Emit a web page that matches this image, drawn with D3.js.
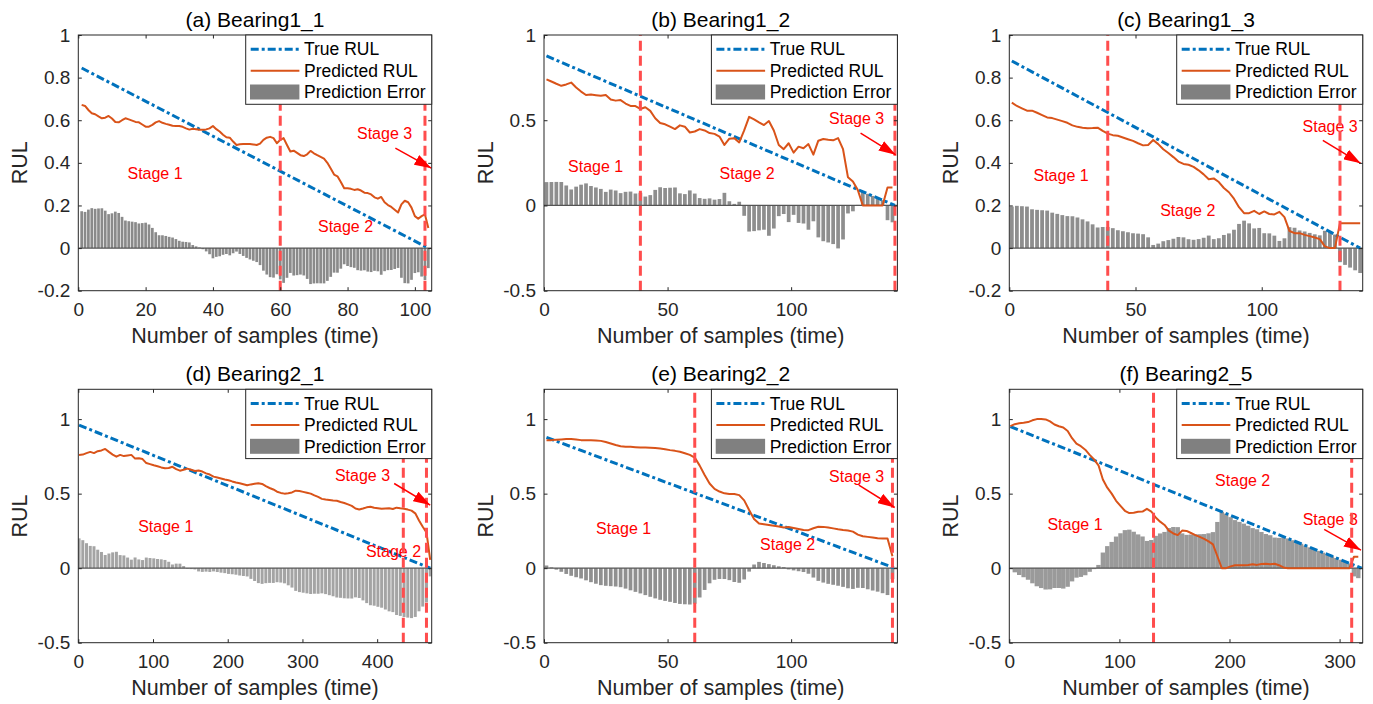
<!DOCTYPE html>
<html>
<head>
<meta charset="utf-8">
<script src="https://cdn.jsdelivr.net/npm/d3@7"></script>
<style>
body { margin: 0; background: #fff; }
svg text { font-family: "Liberation Sans", Arial, Helvetica, sans-serif; }
</style>
</head>
<body>
<svg id="chart" width="1373" height="704"></svg>
<script>
// ---- data ----
var titles = ["(a) Bearing1_1", "(b) Bearing1_2", "(c) Bearing1_3",
              "(d) Bearing2_1", "(e) Bearing2_2", "(f) Bearing2_5"];
var legendNames = ["True RUL", "Predicted RUL", "Prediction Error"];
var xAxisName = "Number of samples (time)";
var yAxisName = "RUL";

// x tick labels / y tick labels
var xTicksA = [0, 20, 40, 60, 80, 100];
var xTicksB = [0, 50, 100];
var xTicksC = [0, 50, 100];
var xTicksD = [0, 100, 200, 300, 400];
var xTicksE = [0, 50, 100];
var xTicksF = [0, 100, 200, 300];
var yTicksA = [-0.2, 0, 0.2, 0.4, 0.6, 0.8, 1];
var yTicksHalf = [-0.5, 0, 0.5, 1];

// axis limits
var xLimA = [0, 105], xLimB = [0, 143], xLimC = [0, 140];
var xLimD = [0, 473], xLimE = [0, 143], xLimF = [0, 321];
var yLimA = [-0.2, 1], yLimB = [-0.5, 1], yLimC = [-0.2, 1];
var yLimRow2 = [-0.5, 1.2];

// true RUL: straight line, [sample, value] at both ends
var trueA = [[1, 0.845], [104, 0]];
var trueB = [[1, 0.877], [142, 0]];
var trueC = [[1, 0.878], [139, 0]];
var trueD = [[1, 0.96], [471, 0]];
var trueE = [[1, 0.877], [142, 0]];
var trueF = [[1, 0.95], [320, 0]];

// predicted RUL, first sample and sample step
var predAStart = 1, predAStep = 1;
var predA = [0.672,0.667,0.648,0.633,0.628,0.618,0.609,0.612,0.620,0.608,
  0.592,0.590,0.600,0.609,0.604,0.598,0.592,0.590,0.580,0.570,
  0.570,0.578,0.590,0.596,0.588,0.583,0.579,0.574,0.573,0.573,
  0.569,0.562,0.556,0.560,0.558,0.555,0.555,0.557,0.562,0.573,
  0.558,0.547,0.532,0.520,0.518,0.500,0.484,0.487,0.488,0.489,
  0.488,0.486,0.484,0.490,0.508,0.518,0.522,0.516,0.492,0.508,
  0.516,0.484,0.453,0.457,0.447,0.436,0.432,0.440,0.456,0.445,
  0.436,0.428,0.420,0.400,0.373,0.345,0.337,0.310,0.281,0.281,
  0.278,0.273,0.276,0.270,0.260,0.258,0.252,0.238,0.232,0.240,
  0.215,0.202,0.193,0.180,0.167,0.205,0.222,0.215,0.190,0.150,
  0.138,0.150,0.158,0.094];

var predBStart = 1, predBStep = 2;
var predB = [0.740,0.727,0.714,0.702,0.710,0.721,0.692,0.668,0.648,0.651,
  0.647,0.643,0.648,0.622,0.615,0.618,0.598,0.584,0.583,0.566,
  0.576,0.555,0.512,0.484,0.476,0.462,0.448,0.470,0.462,0.428,
  0.434,0.448,0.440,0.425,0.420,0.404,0.355,0.392,0.395,0.370,
  0.440,0.520,0.505,0.488,0.472,0.495,0.440,0.355,0.330,0.365,
  0.310,0.345,0.336,0.360,0.298,0.380,0.390,0.385,0.382,0.395,
  0.330,0.165,0.140,0.090,0,0,0,0,0,0.105,
  0.105];

var predCStart = 1, predCStep = 2;
var predC = [0.683,0.667,0.656,0.645,0.645,0.635,0.624,0.613,0.610,0.603,
  0.596,0.588,0.576,0.569,0.565,0.562,0.563,0.565,0.550,0.537,
  0.530,0.527,0.519,0.511,0.503,0.492,0.482,0.484,0.507,0.488,
  0.464,0.446,0.427,0.406,0.395,0.391,0.381,0.365,0.346,0.323,
  0.327,0.310,0.282,0.262,0.232,0.192,0.164,0.164,0.175,0.160,
  0.172,0.160,0.158,0.170,0.145,0.080,0.070,0.070,0.062,0.056,
  0.050,0.042,0.008,0,0,0.117,0.117,0.117,0.117,0.117];

var predDStart = 1, predDStep = 5;
var predD = [0.760,0.762,0.772,0.780,0.772,0.785,0.790,0.800,0.780,0.762,
  0.748,0.760,0.752,0.756,0.760,0.735,0.738,0.732,0.705,0.698,
  0.690,0.684,0.676,0.670,0.672,0.680,0.664,0.654,0.660,0.668,
  0.660,0.652,0.655,0.648,0.636,0.628,0.614,0.608,0.602,0.595,
  0.590,0.582,0.575,0.570,0.563,0.556,0.562,0.566,0.570,0.565,
  0.550,0.538,0.528,0.513,0.505,0.500,0.503,0.508,0.520,0.518,
  0.512,0.506,0.500,0.488,0.478,0.465,0.460,0.457,0.454,0.452,
  0.444,0.437,0.428,0.418,0.400,0.394,0.400,0.408,0.412,0.405,
  0.402,0.398,0.400,0.402,0.397,0.406,0.402,0.399,0.393,0.386,
  0.368,0.320,0.278,0.240,0.055];

var predEStart = 1, predEStep = 2;
var predE = [0.859,0.859,0.862,0.864,0.866,0.866,0.863,0.859,0.859,0.859,
  0.857,0.854,0.846,0.836,0.826,0.818,0.815,0.814,0.812,0.810,
  0.809,0.808,0.806,0.803,0.798,0.792,0.787,0.781,0.771,0.760,
  0.742,0.688,0.625,0.568,0.532,0.514,0.502,0.497,0.497,0.490,
  0.455,0.390,0.330,0.300,0.295,0.290,0.285,0.280,0.273,0.276,
  0.270,0.263,0.256,0.255,0.268,0.278,0.277,0.273,0.267,0.261,
  0.256,0.253,0.245,0.225,0.214,0.210,0.206,0.201,0.199,0.199,
  0.080];

var predFStart = 1, predFStep = 4;
var predF = [0.953,0.966,0.972,0.975,0.980,0.992,1.0,1.0,0.998,0.985,
  0.964,0.952,0.944,0.920,0.872,0.835,0.818,0.795,0.760,0.730,
  0.690,0.595,0.540,0.500,0.452,0.418,0.385,0.370,0.372,0.378,
  0.380,0.398,0.380,0.340,0.312,0.290,0.252,0.233,0.222,0.252,
  0.250,0.236,0.222,0.210,0.197,0.180,0.160,0.080,0,0,
  0.012,0.020,0.020,0.020,0.022,0.026,0.022,0.028,0.030,0.026,
  0.030,0.020,0.005,0,0,0,0,0,0,0,
  0,0,0,0,0,0,0,0,0.076,0.076];

// stage boundaries (sample index of the dashed red lines)
var stageLinesA = [60, 103], stageLinesB = [39, 142], stageLinesC = [39, 131];
var stageLinesD = [435, 466], stageLinesE = [61, 141], stageLinesF = [131, 311];

// stage labels: [text, sample, RUL]
var stageTextA = [["Stage 1", 22.8, 0.352], ["Stage 2", 79.4, 0.102], ["Stage 3", 91, 0.536]];
var stageTextB = [["Stage 1", 20.9, 0.229], ["Stage 2", 82.2, 0.186], ["Stage 3", 126.5, 0.508]];
var stageTextC = [["Stage 1", 20.5, 0.341], ["Stage 2", 70.7, 0.175], ["Stage 3", 127.1, 0.573]];
var stageTextD = [["Stage 1", 117, 0.277], ["Stage 2", 421.9, 0.110], ["Stage 3", 380.4, 0.624]];
var stageTextE = [["Stage 1", 32.2, 0.266], ["Stage 2", 98.6, 0.159], ["Stage 3", 126.5, 0.617]];
var stageTextF = [["Stage 1", 59.7, 0.295], ["Stage 2", 212, 0.586], ["Stage 3", 291.5, 0.327]];

// arrows pointing at stage 3: [[from], [to]]
var arrowA = [[94.2, 0.469], [104.9, 0.375]];
var arrowB = [[128.1, 0.424], [142.3, 0.297]];
var arrowC = [[124.2, 0.505], [139.2, 0.398]];
var arrowD = [[422.8, 0.568], [471, 0.423]];
var arrowE = [[127.4, 0.557], [141.9, 0.407]];
var arrowF = [[286, 0.26], [319.4, 0.121]];

// ---- layout ----
var colLeft = [78.3, 544, 1009.3];
var plotW = 353.4;
var rowTop = [35, 389.3];
var plotH = [255.7, 253.4];
var tickLen = 3.5;
var axisColor = "#262626";

var panels = [
  {title: titles[0], pred: predA, start: predAStart, step: predAStep, truth: trueA, xLim: xLimA, xTicks: xTicksA,
   yLim: yLimA, yTicks: yTicksA, stages: stageLinesA, labels: stageTextA, arrow: arrowA, barW: 0.8, barColor: "#8a8a8a"},
  {title: titles[1], pred: predB, start: predBStart, step: predBStep, truth: trueB, xLim: xLimB, xTicks: xTicksB,
   yLim: yLimB, yTicks: yTicksHalf, stages: stageLinesB, labels: stageTextB, arrow: arrowB, barW: 0.75, barColor: "#8e8e8e"},
  {title: titles[2], pred: predC, start: predCStart, step: predCStep, truth: trueC, xLim: xLimC, xTicks: xTicksC,
   yLim: yLimC, yTicks: yTicksA, stages: stageLinesC, labels: stageTextC, arrow: arrowC, barW: 0.75, barColor: "#8e8e8e"},
  {title: titles[3], pred: predD, start: predDStart, step: predDStep, truth: trueD, xLim: xLimD, xTicks: xTicksD,
   yLim: yLimRow2, yTicks: yTicksHalf, stages: stageLinesD, labels: stageTextD, arrow: arrowD, barW: 0.8, barColor: "#a4a4a4"},
  {title: titles[4], pred: predE, start: predEStart, step: predEStep, truth: trueE, xLim: xLimE, xTicks: xTicksE,
   yLim: yLimRow2, yTicks: yTicksHalf, stages: stageLinesE, labels: stageTextE, arrow: arrowE, barW: 0.75, barColor: "#909090"},
  {title: titles[5], pred: predF, start: predFStart, step: predFStep, truth: trueF, xLim: xLimF, xTicks: xTicksF,
   yLim: yLimRow2, yTicks: yTicksHalf, stages: stageLinesF, labels: stageTextF, arrow: arrowF, barW: 1.0, barColor: "#9a9a9a"}
];

var svg = d3.select("#chart");
var defs = svg.append("defs");
defs.append("marker")
    .attr("id", "arrowHead")
    .attr("viewBox", "0 0 10 10")
    .attr("preserveAspectRatio", "none")
    .attr("refX", 10).attr("refY", 5)
    .attr("markerUnits", "userSpaceOnUse")
    .attr("markerWidth", 17).attr("markerHeight", 11)
    .attr("orient", "auto")
    .append("path").attr("d", "M0,0 L10,5 L0,10 z").attr("fill", "#ff0000");

var tickFmt = function(d) { return String(Math.round(d * 10) / 10); };

function styleAxis(sel) {
    sel.attr("font-size", 19)
       .attr("font-family", "'Liberation Sans', Arial, Helvetica, sans-serif")
       .attr("color", axisColor);
    sel.select(".domain").remove();
}

function drawPanel(p, idx) {
    var col = idx % 3, row = Math.floor(idx / 3);
    var left = colLeft[col], top = rowTop[row], w = plotW, h = plotH[row];
    var x = d3.scaleLinear().domain(p.xLim).range([left, left + w]);
    var y = d3.scaleLinear().domain(p.yLim).range([top + h, top]);
    var truth = d3.scaleLinear().domain([p.truth[0][0], p.truth[1][0]]).range([p.truth[0][1], p.truth[1][1]]);

    var g = svg.append("g").attr("id", "panel" + idx);

    defs.append("clipPath").attr("id", "clip" + idx)
        .append("rect").attr("x", left).attr("y", top).attr("width", w).attr("height", h);
    var inner = g.append("g").attr("clip-path", "url(#clip" + idx + ")");

    var pts = p.pred.map(function(v, i) {
        var s = p.start + i * p.step;
        return {x: s, pred: v, err: truth(s) - v};
    });

    // prediction error bars
    var bw = (x(p.step) - x(0)) * p.barW;
    inner.selectAll("rect.err").data(pts).enter().append("rect")
        .attr("class", "err")
        .attr("x", function(d) { return x(d.x) - bw / 2; })
        .attr("width", bw)
        .attr("y", function(d) { return y(Math.max(0, d.err)); })
        .attr("height", function(d) { return Math.abs(y(d.err) - y(0)); })
        .attr("fill", p.barColor);

    // bar baseline
    inner.append("line")
        .attr("x1", left).attr("x2", left + w)
        .attr("y1", y(0)).attr("y2", y(0))
        .attr("stroke", "#555").attr("stroke-width", 1.2);

    // true RUL
    inner.append("path")
        .datum(p.truth)
        .attr("d", d3.line().x(function(d) { return x(d[0]); }).y(function(d) { return y(d[1]); }))
        .attr("fill", "none")
        .attr("stroke", "#0072BD")
        .attr("stroke-width", 3)
        .attr("stroke-dasharray", "8,3,3,3");

    // predicted RUL
    inner.append("path")
        .datum(pts)
        .attr("d", d3.line().x(function(d) { return x(d.x); }).y(function(d) { return y(d.pred); }))
        .attr("fill", "none")
        .attr("stroke", "#D95319")
        .attr("stroke-width", 2)
        .attr("stroke-linejoin", "round");

    // stage labels
    g.selectAll("text.stage").data(p.labels).enter().append("text")
        .attr("class", "stage")
        .attr("x", function(d) { return x(d[1]); })
        .attr("y", function(d) { return y(d[2]); })
        .attr("dy", "0.35em")
        .attr("text-anchor", "middle")
        .attr("font-size", 16)
        .attr("fill", "#ff0000")
        .text(function(d) { return d[0]; });

    // stage boundaries, drawn from the bottom up
    g.selectAll("line.stageLine").data(p.stages).enter().append("line")
        .attr("class", "stageLine")
        .attr("x1", function(d) { return x(d); }).attr("x2", function(d) { return x(d); })
        .attr("y1", top + h).attr("y2", top)
        .attr("stroke", "#ff4d4d")
        .attr("stroke-width", 3)
        .attr("stroke-dasharray", "10,5");

    // arrow to stage 3
    g.append("line")
        .attr("x1", x(p.arrow[0][0])).attr("y1", y(p.arrow[0][1]))
        .attr("x2", x(p.arrow[1][0])).attr("y2", y(p.arrow[1][1]))
        .attr("stroke", "#ff0000").attr("stroke-width", 1.5)
        .attr("marker-end", "url(#arrowHead)");

    // axes with inward ticks on all four sides
    g.append("g").attr("transform", "translate(0," + (top + h) + ")")
        .call(d3.axisBottom(x).tickValues(p.xTicks).tickSize(-tickLen).tickPadding(11.5).tickFormat(tickFmt))
        .call(styleAxis);
    g.append("g").attr("transform", "translate(0," + top + ")")
        .call(d3.axisTop(x).tickValues(p.xTicks).tickSize(-tickLen).tickFormat(""))
        .call(styleAxis);
    g.append("g").attr("transform", "translate(" + left + ",0)")
        .call(d3.axisLeft(y).tickValues(p.yTicks).tickSize(-tickLen).tickPadding(8).tickFormat(tickFmt))
        .call(styleAxis);
    g.append("g").attr("transform", "translate(" + (left + w) + ",0)")
        .call(d3.axisRight(y).tickValues(p.yTicks).tickSize(-tickLen).tickFormat(""))
        .call(styleAxis);

    g.append("rect")
        .attr("x", left).attr("y", top).attr("width", w).attr("height", h)
        .attr("fill", "none").attr("stroke", axisColor).attr("stroke-width", 1);

    // title and axis names
    g.append("text")
        .attr("x", left + w / 2).attr("y", top - 8)
        .attr("text-anchor", "middle").attr("font-size", 21).attr("fill", "#000")
        .text(p.title);
    g.append("text")
        .attr("x", left + w / 2).attr("y", top + h + 52)
        .attr("text-anchor", "middle").attr("font-size", 21.5).attr("fill", "#262626")
        .text(xAxisName);
    g.append("text")
        .attr("transform", "translate(" + (left - 59) + "," + (top + h / 2) + ") rotate(-90)")
        .attr("dy", "0.35em")
        .attr("text-anchor", "middle").attr("font-size", 21.5).attr("fill", "#262626")
        .text(yAxisName);

    // legend box in the upper right corner
    var lw = 186, lh = 69.3;
    var lg = g.append("g").attr("transform", "translate(" + (left + w - lw) + "," + top + ")");
    lg.append("rect").attr("width", lw).attr("height", lh)
        .attr("fill", "#fff").attr("stroke", axisColor).attr("stroke-width", 1);
    lg.append("line").attr("x1", 5).attr("x2", 53.7).attr("y1", 14.3).attr("y2", 14.3)
        .attr("stroke", "#0072BD").attr("stroke-width", 3).attr("stroke-dasharray", "8,3,3,3");
    lg.append("line").attr("x1", 5).attr("x2", 53.7).attr("y1", 35.7).attr("y2", 35.7)
        .attr("stroke", "#D95319").attr("stroke-width", 2);
    lg.append("rect").attr("x", 4.3).attr("y", 49.5).attr("width", 49.4).attr("height", 15)
        .attr("fill", "#808080");
    lg.selectAll("text").data(legendNames).enter().append("text")
        .attr("x", 58.3)
        .attr("y", function(d, i) { return [14.3, 35.7, 57.3][i]; })
        .attr("dy", "0.35em")
        .attr("font-size", 17.5).attr("fill", "#000")
        .text(function(d) { return d; });
}

panels.forEach(drawPanel);
</script>
</body>
</html>
